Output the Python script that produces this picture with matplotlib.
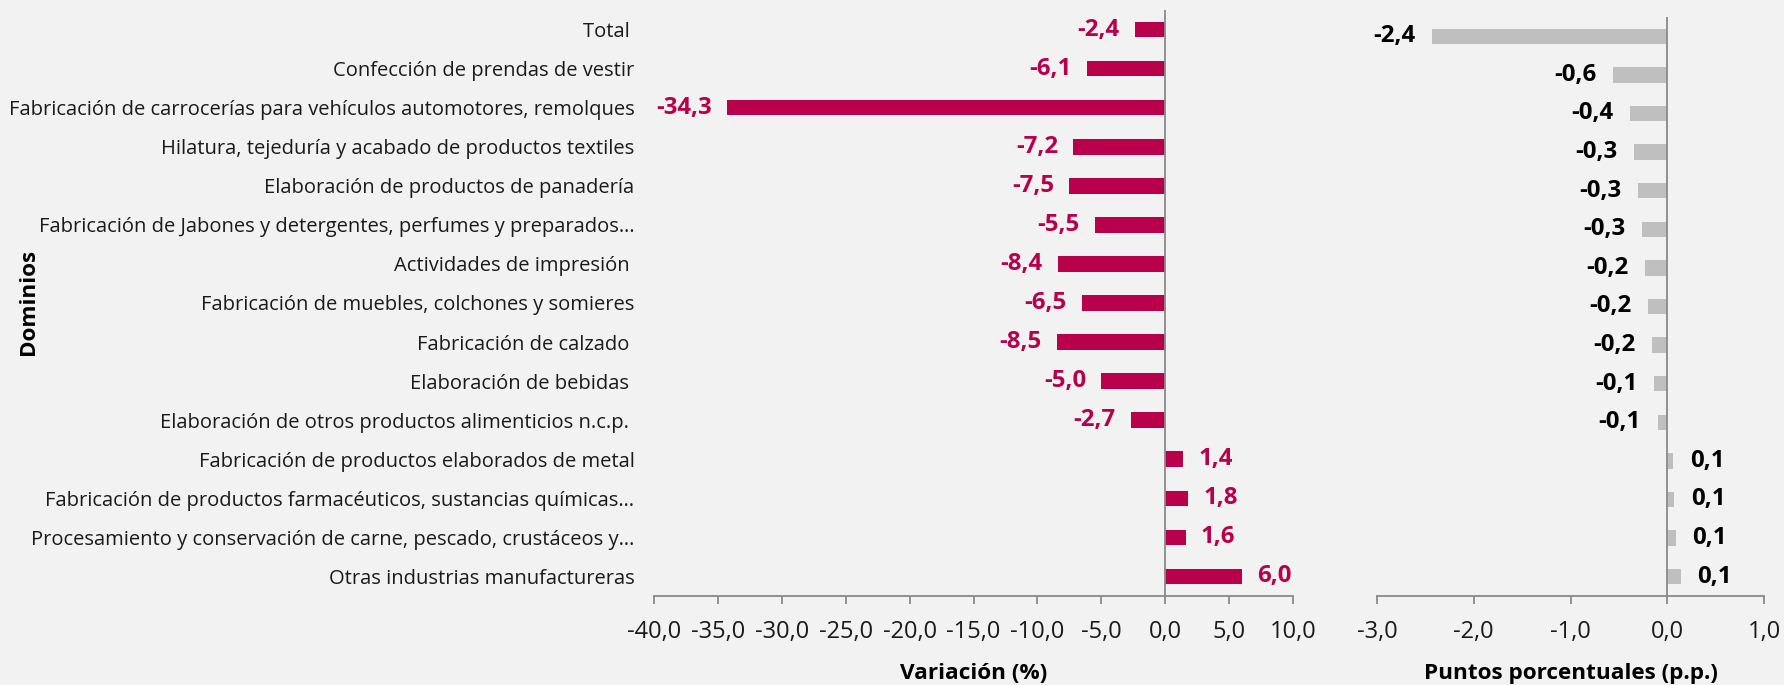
import matplotlib
matplotlib.use("Agg")
import matplotlib.pyplot as plt

# datos
dominios = [
    "Total ",
    "Confección de prendas de vestir",
    "Fabricación de carrocerías para vehículos automotores, remolques",
    "Hilatura, tejeduría y acabado de productos textiles",
    "Elaboración de productos de panadería",
    "Fabricación de Jabones y detergentes, perfumes y preparados…",
    "Actividades de impresión ",
    "Fabricación de muebles, colchones y somieres",
    "Fabricación de calzado ",
    "Elaboración de bebidas ",
    "Elaboración de otros productos alimenticios n.c.p. ",
    "Fabricación de productos elaborados de metal",
    "Fabricación de productos farmacéuticos, sustancias químicas…",
    "Procesamiento y conservación de carne, pescado, crustáceos y…",
    "Otras industrias manufactureras",
]
variacion = [-2.4, -6.1, -34.3, -7.2, -7.5, -5.5, -8.4, -6.5, -8.5, -5.0, -2.7, 1.4, 1.8, 1.6, 6.0]
contribucion = [-2.43, -0.56, -0.38, -0.34, -0.30, -0.26, -0.23, -0.20, -0.16, -0.14, -0.10, 0.06, 0.07, 0.09, 0.14]

ticks_var = [-40, -35, -30, -25, -20, -15, -10, -5, 0, 5, 10]
ticks_pp = [-3, -2, -1, 0, 1]

fondo = "#F2F2F2"
rojo = "#B8004B"
gris_barra = "#BFBFBF"
gris_eje = "#898989"

plt.rcParams["font.family"] = ["Open Sans", "DejaVu Sans"]


def fmt(v):
    return f"{v:.1f}".replace(".", ",")


fig = plt.figure(figsize=(17.84, 6.85), dpi=100, facecolor=fondo)
ax1 = fig.add_axes([654 / 1784, 89 / 685, 639 / 1784, 586 / 685], facecolor=fondo)
ax2 = fig.add_axes([1377 / 1784, 89 / 685, 387 / 1784, 579 / 685], facecolor=fondo)

y = list(range(len(dominios)))


def estilo(ax, ticks):
    for s in ["top", "right", "left"]:
        ax.spines[s].set_visible(False)
    ax.spines["bottom"].set_color(gris_eje)
    ax.spines["bottom"].set_linewidth(1.3)
    ax.axvline(0, color=gris_eje, lw=1.3, zorder=3)
    ax.set_xticks(ticks)
    ax.set_xticklabels([fmt(t) for t in ticks])
    ax.set_xlim(ticks[0], ticks[-1])
    ax.set_ylim(len(dominios) - 0.5, -0.5)
    ax.tick_params(axis="x", direction="out", length=6, width=1.3, color=gris_eje,
                   labelsize=17, labelcolor="#1a1a1a", pad=11)


# panel izquierdo: variacion
ax1.barh(y, variacion, height=0.4, color=rojo, zorder=2)
estilo(ax1, ticks_var)
ax1.set_yticks(y)
ax1.set_yticklabels(dominios)
ax1.tick_params(axis="y", length=0, pad=14, labelsize=14.5, labelcolor="#1a1a1a")
for yi, v in zip(y, variacion):
    off = 11 if v >= 0 else -11
    ax1.annotate(fmt(v), (v, yi), xytext=(off, 0), textcoords="offset points",
                 ha="left" if v >= 0 else "right", va="center",
                 fontsize=17.3, fontweight="bold", color=rojo)
ax1.set_xlabel("Variación (%)", fontsize=16.2, fontweight="bold", labelpad=14)

# panel derecho: puntos porcentuales
ax2.barh(y, contribucion, height=0.4, color=gris_barra, zorder=2)
estilo(ax2, ticks_pp)
ax2.set_yticks([])
for yi, v in zip(y, contribucion):
    off = 12 if v >= 0 else -12
    ax2.annotate(fmt(v), (v, yi), xytext=(off, 0), textcoords="offset points",
                 ha="left" if v >= 0 else "right", va="center",
                 fontsize=17.3, fontweight="bold", color="black")
ax2.set_xlabel("Puntos porcentuales (p.p.)", fontsize=16.2, fontweight="bold", labelpad=14)

fig.text(28 / 1784, 1 - 302 / 685, "Dominios", rotation=90, ha="center", va="center",
         fontsize=16.2, fontweight="bold")

fig.savefig("out.png", dpi=100, facecolor=fondo)
